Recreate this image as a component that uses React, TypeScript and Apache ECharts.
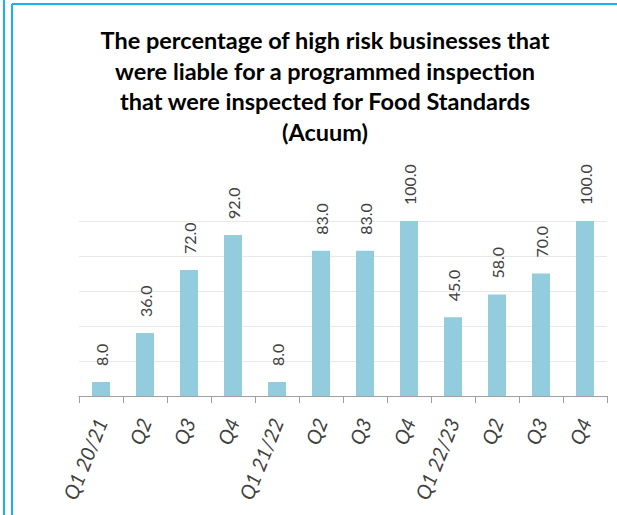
import React, { useEffect, useRef } from "react";
import * as echarts from "echarts";

const categories = ["Q1 20/21", "Q2", "Q3", "Q4", "Q1 21/22", "Q2", "Q3", "Q4", "Q1 22/23", "Q2", "Q3", "Q4"];
const values = [8, 36, 72, 92, 8, 83, 83, 100, 45, 58, 70, 100];
const titleLines = [
  "The percentage of high risk businesses that",
  "were liable for a programmed inspection",
  "that were inspected for Food Standards",
  "(Acuum)",
];

export default function App() {
  const ref = useRef<HTMLDivElement>(null);
  useEffect(() => {
    document.body.style.margin = "0";
    const chart = echarts.init(ref.current!, null, { renderer: "svg" });
    const border = "#1AB1EF";
    chart.setOption({
      animation: false,
      backgroundColor: "#ffffff",
      title: {
        text: titleLines.join("\n"),
        left: 325,
        top: 25,
        padding: 0,
        textAlign: "center",
        textStyle: {
          fontFamily: "Lato",
          fontWeight: "bold",
          fontSize: 23.5,
          lineHeight: 30.5,
          color: "#000000",
        },
      },
      grid: { left: 79, right: 10, top: 221, bottom: 119 },
      xAxis: {
        type: "category",
        data: categories,
        axisLine: { lineStyle: { color: "#a0a0a0", width: 1 } },
        axisTick: { show: true, length: 7, lineStyle: { color: "#a0a0a0" } },
        axisLabel: {
          interval: 0,
          rotate: 68,
          margin: 23,
          fontFamily: "Lato",
          fontStyle: "italic",
          fontSize: 20,
          color: "#404040",
        },
      },
      yAxis: {
        type: "value",
        min: 0,
        max: 100,
        interval: 20,
        axisLabel: { show: false },
        axisLine: { show: false },
        axisTick: { show: false },
        splitLine: { lineStyle: { color: "#e8e8e8", width: 1 } },
      },
      series: [
        {
          type: "bar",
          data: values,
          barWidth: 18,
          itemStyle: { color: "#93CDDD" },
          label: {
            show: true,
            position: "top",
            rotate: 90,
            align: "left",
            verticalAlign: "middle",
            distance: 16,
            fontFamily: "Lato",
            fontSize: 16,
            color: "#404040",
            formatter: (p: any) => Number(p.value).toFixed(1),
          },
        },
      ],
      graphic: [
        { type: "line", shape: { x1: 4, y1: 0, x2: 4, y2: 515 }, style: { stroke: border, lineWidth: 2 }, silent: true },
        { type: "line", shape: { x1: 12, y1: 4, x2: 12, y2: 515 }, style: { stroke: border, lineWidth: 2 }, silent: true },
        { type: "line", shape: { x1: 12, y1: 4, x2: 617, y2: 4 }, style: { stroke: border, lineWidth: 2 }, silent: true },
      ],
    });
    return () => chart.dispose();
  }, []);
  return <div ref={ref} style={{ position: "absolute", left: 0, top: 0, width: 617, height: 515 }} />;
}
